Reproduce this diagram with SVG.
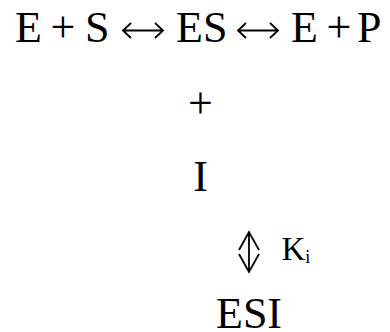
<svg xmlns="http://www.w3.org/2000/svg" width="390" height="332" viewBox="0 0 390 332">
<style>
.t{font-family:"Liberation Serif","Times New Roman",serif;font-size:44px;fill:#000}
.k{font-family:"Liberation Serif","Times New Roman",serif;font-size:33px;fill:#000}
.sub{font-family:"Liberation Serif","Times New Roman",serif;font-size:18px;fill:#000}
.arr{fill:none;stroke:#000;stroke-width:1.8;stroke-linecap:butt;stroke-linejoin:miter}
</style>
<rect width="390" height="332" fill="#fff"/>
<g id="reaction">
<text class="t" y="42"><tspan x="15">E</tspan><tspan x="50.5">+</tspan><tspan x="85">S</tspan><tspan x="176">ES</tspan><tspan x="291">E</tspan><tspan x="326.5">+</tspan><tspan x="357">P</tspan></text>
</g>
<g id="plus">
<text class="t" x="200.5" y="118" text-anchor="middle">+</text>
</g>
<g id="inhibitor">
<text class="t" x="200.5" y="191" text-anchor="middle">I</text>
</g>
<g id="esi">
<text class="t" x="249" y="327.5" text-anchor="middle">ESI</text>
</g>
<g id="connectors">
<path class="arr" d="M123,30.5 H163 M131,23 L123,30.5 L131,38 M155,23 L163,30.5 L155,38"/>
<path class="arr" d="M238,30.5 H278 M246,23 L238,30.5 L246,38 M270,23 L278,30.5 L270,38"/>
<path class="arr" d="M249,232 V272 M239,250 L249,232 L259,250 M239,254 L249,272 L259,254"/>
</g>
<g id="ki-label">
<text class="k" x="281.5" y="260">K<tspan class="sub" y="263">i</tspan></text>
</g>
</svg>
